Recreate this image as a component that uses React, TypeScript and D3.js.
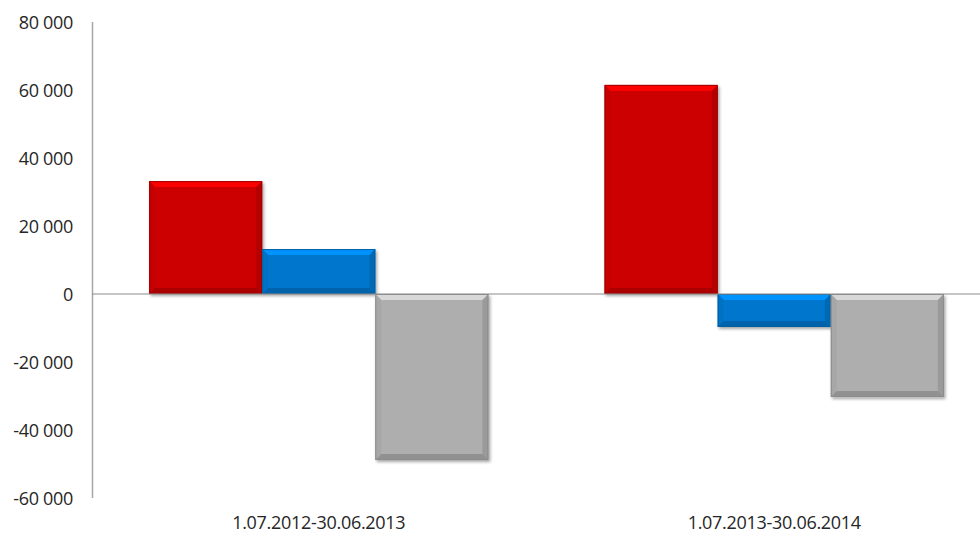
import * as d3 from 'd3';

const categories = ['1.07.2012-30.06.2013', '1.07.2013-30.06.2014'];
const seriesNames = ['A', 'B', 'C'];
const seriesA = [33200, 61500];
const seriesB = [13200, -9700];
const seriesC = [-48800, -30300];
const yTicks = [80000, 60000, 40000, 20000, 0, -20000, -40000, -60000];

const colors = ['#cc0000', '#0077cc', '#aeaeae'];

const width = 980;
const height = 536;
const labelStyle = { font: '18px "Open Sans", sans-serif', fill: '#262626', letterSpacing: '-0.3px' };

const fmt = (v: number) => {
    const s = Math.abs(v).toString().replace(/\B(?=(\d{3})+(?!\d))/g, ' ');
    return (v < 0 ? '-' : '') + s;
};

export default function App() {
    const values = [seriesA, seriesB, seriesC];

    const y = d3.scaleLinear().domain([-60000, 80000]).range([498, 22]);
    const x0 = d3.scaleBand<string>().domain(categories).range([91, 1002]).paddingInner(0.255).paddingOuter(0.1275);
    const x1 = d3.scaleBand<string>().domain(seriesNames).range([0, x0.bandwidth()]);

    const bars: JSX.Element[] = [];
    categories.forEach((c, ci) => {
        seriesNames.forEach((s, si) => {
            const v = values[si][ci];
            const bx = (x0(c) || 0) + (x1(s) || 0);
            const w = x1.bandwidth();
            const top = y(Math.max(0, v));
            const bot = y(Math.min(0, v));
            const h = bot - top;
            const b = Math.min(6, h / 2);
            const base = d3.color(colors[si])!;
            const light = base.brighter(0.6).toString();
            const dark = base.darker(0.6).toString();
            const mid = base.darker(0.2).toString();
            bars.push(
                <g key={c + s} filter="url(#shadow)">
                    <rect x={bx} y={top} width={w} height={h} fill={colors[si]} />
                    <polygon points={`${bx},${top} ${bx + w},${top} ${bx + w - b},${top + b} ${bx + b},${top + b}`} fill={light} />
                    <polygon points={`${bx},${top} ${bx + b},${top + b} ${bx + b},${bot - b} ${bx},${bot}`} fill={mid} opacity={0.6} />
                    <polygon points={`${bx + w},${top} ${bx + w - b},${top + b} ${bx + w - b},${bot - b} ${bx + w},${bot}`} fill={dark} opacity={0.6} />
                    <polygon points={`${bx},${bot} ${bx + w},${bot} ${bx + w - b},${bot - b} ${bx + b},${bot - b}`} fill={dark} opacity={0.85} />
                    <rect x={bx + 0.5} y={top + 0.5} width={w - 1} height={h - 1} fill="none" stroke={dark} strokeWidth={1} />
                </g>
            );
        });
    });

    return (
        <svg width={width} height={height} style={{ position: 'absolute', left: 0, top: 0, background: 'white' }}>
            <defs>
                <filter id="shadow" x="-10%" y="-10%" width="130%" height="130%">
                    <feDropShadow dx={1.5} dy={2} stdDeviation={1.5} floodColor="#000" floodOpacity={0.35} />
                </filter>
            </defs>
            <line x1={92.5} x2={92.5} y1={y(80000)} y2={y(-60000)} stroke="#a6a6a6" strokeWidth={1.5} />
            {yTicks.map(t => (
                <text key={t} x={73} y={y(t)} dy="0.4em" textAnchor="end" style={labelStyle}>
                    {fmt(t)}
                </text>
            ))}
            {bars}
            <line x1={92} x2={width} y1={y(0)} y2={y(0)} stroke="#8c8c8c" strokeWidth={1.2} />
            {categories.map(c => (
                <text key={c} x={(x0(c) || 0) + x0.bandwidth() / 2} y={529} textAnchor="middle" style={labelStyle}>
                    {c}
                </text>
            ))}
        </svg>
    );
}
